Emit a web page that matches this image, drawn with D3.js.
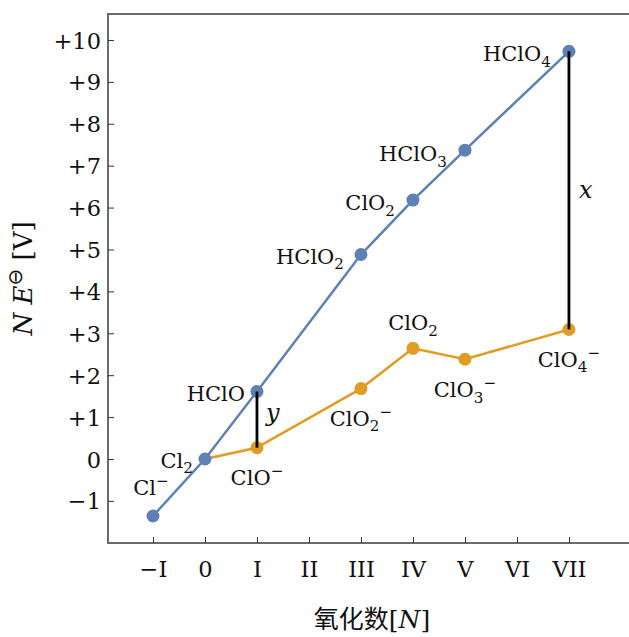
<!DOCTYPE html>
<html>
<head>
<meta charset="utf-8">
<script src="https://cdn.jsdelivr.net/npm/d3@7"></script>
<style>
  body { margin: 0; background: #fff; }
  svg text { font-family: "DejaVu Serif", serif; fill: #111; }
  .cjk { font-family: "Noto Sans CJK SC", sans-serif; }
</style>
</head>
<body>
<div id="chart"></div>
<script>
// oxidation state axis
var oxStates = [-1, 0, 1, 2, 3, 4, 5, 6, 7];
var oxLabels = ['\u2212I', '0', 'I', 'II', 'III', 'IV', 'V', 'VI', 'VII'];

// y axis ticks
var yTicks = [-1, 0, 1, 2, 3, 4, 5, 6, 7, 8, 9, 10];
var yTickLabels = ['\u22121', '0', '+1', '+2', '+3', '+4', '+5', '+6', '+7', '+8', '+9', '+10'];

// acid solution (blue)
var acidN = [-1, 0, 1, 3, 4, 5, 7];
var acidNE = [-1.36, 0, 1.61, 4.88, 6.18, 7.37, 9.73];
var acidSpecies = ['Cl^\u2212', 'Cl_2', 'HClO', 'HClO_2', 'ClO_2', 'HClO_3', 'HClO_4'];

// basic solution (orange)
var baseN = [0, 1, 3, 4, 5, 7];
var baseNE = [0, 0.27, 1.68, 2.64, 2.38, 3.09];
var baseSpecies = ['', 'ClO^\u2212', 'ClO_2^\u2212', 'ClO_2', 'ClO_3^\u2212', 'ClO_4^\u2212'];

// differences marked with vertical bars
var gapN = [1, 7];
var gapNames = ['y', 'x'];

// label placement (pixels relative to the point)
var acidLabelPos = [
  {dx: -2, dy: -21, anchor: 'middle'},
  {dx: -12, dy: 9, anchor: 'end'},
  {dx: -12, dy: 9, anchor: 'end'},
  {dx: -17, dy: 9, anchor: 'end'},
  {dx: -18, dy: 10, anchor: 'end'},
  {dx: -18, dy: 11, anchor: 'end'},
  {dx: -18, dy: 10, anchor: 'end'}
];
var baseLabelPos = [
  {dx: 0, dy: 0, anchor: 'middle'},
  {dx: 0, dy: 37, anchor: 'middle'},
  {dx: 0, dy: 37, anchor: 'middle'},
  {dx: 0, dy: -18, anchor: 'middle'},
  {dx: 0, dy: 38, anchor: 'middle'},
  {dx: 0, dy: 37, anchor: 'middle'}
];
var gapLabelPos = [
  {dx: 9, dy: 1},
  {dx: 10, dy: 8}
];

var width = 629, height = 637;
var blue = '#5e81b5', orange = '#e19c24';

var svg = d3.select('#chart').append('svg')
    .attr('width', width)
    .attr('height', height);

var plot = {left: 108, right: 629, top: 14, bottom: 543};

var x = d3.scaleLinear().domain([-1.865, 8.155]).range([plot.left, plot.right]);
var y = d3.scaleLinear().domain([-2.005, 10.62]).range([plot.bottom, plot.top]);

// writes "ClO_2^-" style strings as tspans with sub/superscripts
function chem(textSel, str, size){
  var parts = [];
  var re = /([_^])(.)|([^_^]+)/g, m;
  while ((m = re.exec(str)) !== null){
    if (m[3]) parts.push({t: m[3], shift: 0});
    else parts.push({t: m[2], shift: m[1] === '_' ? 0.26 : -0.42});
  }
  var cur = 0;
  parts.forEach(function(p){
    var ts = textSel.append('tspan').text(p.t);
    if (p.shift !== 0) ts.style('font-size', (size * 0.72) + 'px');
    var s = p.shift * size;
    if (s !== cur) ts.attr('dy', s - cur);
    cur = s;
  });
}

// frame: left, top, bottom (no right side)
var frame = svg.append('g')
    .attr('stroke', '#6b6b6b')
    .attr('stroke-width', 2);
frame.append('line').attr('x1', plot.left).attr('x2', plot.left).attr('y1', plot.top - 1).attr('y2', plot.bottom + 1);
frame.append('line').attr('x1', plot.left).attr('x2', plot.right).attr('y1', plot.top).attr('y2', plot.top);
frame.append('line').attr('x1', plot.left).attr('x2', plot.right).attr('y1', plot.bottom).attr('y2', plot.bottom);

// x axis
var xAxis = svg.append('g')
    .attr('transform', 'translate(0,' + plot.bottom + ')')
    .call(d3.axisBottom(x)
      .tickValues(oxStates)
      .tickSize(-6)
      .tickPadding(18)
      .tickFormat(function(d, i){ return oxLabels[i]; }));
xAxis.select('.domain').remove();
xAxis.selectAll('.tick line').attr('stroke', '#333').attr('stroke-width', 1);
xAxis.selectAll('.tick text')
    .attr('font-family', 'DejaVu Serif')
    .attr('font-size', 22.5)
    .attr('fill', '#111')
    .attr('dy', '0.73em');

// y axis
var yAxis = svg.append('g')
    .attr('transform', 'translate(' + plot.left + ',0)')
    .call(d3.axisLeft(y)
      .tickValues(yTicks)
      .tickSize(-6)
      .tickPadding(7)
      .tickFormat(function(d, i){ return yTickLabels[i]; }));
yAxis.select('.domain').remove();
yAxis.selectAll('.tick line').attr('stroke', '#333').attr('stroke-width', 1);
yAxis.selectAll('.tick text')
    .attr('font-family', 'DejaVu Serif')
    .attr('font-size', 22.5)
    .attr('fill', '#111')
    .attr('dy', '0.36em');

// axis titles
var yTitle = svg.append('text')
    .attr('transform', 'translate(32,' + ((plot.top + plot.bottom) / 2) + ') rotate(-90)')
    .attr('text-anchor', 'middle')
    .style('font-size', '26px');
yTitle.append('tspan').style('font-style', 'italic').text('N');
yTitle.append('tspan').text(' ');
yTitle.append('tspan').style('font-style', 'italic').text('E');
yTitle.append('tspan').attr('dy', -10)
    .style('font-family', 'DejaVu Sans')
    .style('font-size', '20px')
    .text('\u2296');
yTitle.append('tspan').attr('dy', 10).text(' [V]');

var xTitle = svg.append('text')
    .attr('x', 372)
    .attr('y', 628)
    .attr('text-anchor', 'middle')
    .style('font-size', '25px');
xTitle.append('tspan').attr('class', 'cjk').text('\u6c27\u5316\u6570');
xTitle.append('tspan').text('[');
xTitle.append('tspan').style('font-style', 'italic').text('N');
xTitle.append('tspan').text(']');

// series lines
var line = d3.line()
    .x(function(d){ return x(d[0]); })
    .y(function(d){ return y(d[1]); });

var acid = acidN.map(function(n, i){ return [n, acidNE[i]]; });
var base = baseN.map(function(n, i){ return [n, baseNE[i]]; });

svg.append('path').datum(acid)
    .attr('d', line).attr('fill', 'none')
    .attr('stroke', blue).attr('stroke-width', 2.5);
svg.append('path').datum(base)
    .attr('d', line).attr('fill', 'none')
    .attr('stroke', orange).attr('stroke-width', 2.5);

svg.selectAll('.acidPt').data(acid).enter().append('circle')
    .attr('class', 'acidPt')
    .attr('cx', function(d){ return x(d[0]); })
    .attr('cy', function(d){ return y(d[1]); })
    .attr('r', 6.5)
    .attr('fill', blue);
svg.selectAll('.basePt').data(base.slice(1)).enter().append('circle')
    .attr('class', 'basePt')
    .attr('cx', function(d){ return x(d[0]); })
    .attr('cy', function(d){ return y(d[1]); })
    .attr('r', 6.5)
    .attr('fill', orange);

// vertical difference bars
gapN.forEach(function(n, i){
  var top = acidNE[acidN.indexOf(n)];
  var bot = baseNE[baseN.indexOf(n)];
  svg.append('line')
      .attr('x1', x(n)).attr('x2', x(n))
      .attr('y1', y(top)).attr('y2', y(bot))
      .attr('stroke', '#000').attr('stroke-width', 2.8);
  svg.append('text')
      .attr('x', x(n) + gapLabelPos[i].dx)
      .attr('y', y((top + bot) / 2) + gapLabelPos[i].dy)
      .style('font-style', 'italic')
      .style('font-size', '24px')
      .text(gapNames[i]);
});

// species labels
function addLabels(ns, vals, names, pos){
  names.forEach(function(name, i){
    if (!name) return;
    var t = svg.append('text')
        .attr('x', x(ns[i]) + pos[i].dx)
        .attr('y', y(vals[i]) + pos[i].dy)
        .attr('text-anchor', pos[i].anchor)
        .style('font-size', '21px');
    chem(t, name, 21);
  });
}
addLabels(acidN, acidNE, acidSpecies, acidLabelPos);
addLabels(baseN, baseNE, baseSpecies, baseLabelPos);
</script>
</body>
</html>
